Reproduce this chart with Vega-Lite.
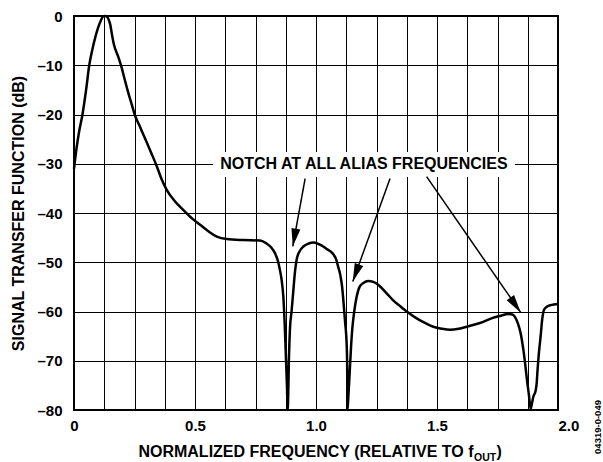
{
  "$schema": "https://vega.github.io/schema/vega-lite/v6.json",
  "width": 484,
  "height": 394,
  "autosize": {"type": "none"},
  "padding": {"left": 74, "top": 16, "right": 45, "bottom": 52},
  "background": "white",
  "config": {
    "font": "Liberation Sans",
    "view": {"stroke": "#000000", "strokeWidth": 2},
    "axis": {
      "grid": true,
      "gridColor": "#000000",
      "gridWidth": 1,
      "gridOpacity": 1,
      "domain": false,
      "ticks": false,
      "labelColor": "#000000",
      "labelFont": "Liberation Sans",
      "labelFontWeight": "bold",
      "labelFontSize": 15,
      "labelFlush": false,
      "labelOverlap": false,
      "titleColor": "#000000",
      "titleFont": "Liberation Sans",
      "titleFontWeight": "bold",
      "titleFontSize": 16
    }
  },
  "datasets": {
    "curve": [
      {"f": 0.000, "db": -31},
      {"f": 0.010, "db": -27},
      {"f": 0.020, "db": -23.8},
      {"f": 0.035, "db": -20},
      {"f": 0.050, "db": -15},
      {"f": 0.063, "db": -10},
      {"f": 0.075, "db": -7},
      {"f": 0.087, "db": -4.5},
      {"f": 0.100, "db": -2.3},
      {"f": 0.112, "db": -0.8},
      {"f": 0.120, "db": -0.1},
      {"f": 0.127, "db": 0},
      {"f": 0.135, "db": -0.1},
      {"f": 0.143, "db": -0.7},
      {"f": 0.150, "db": -1.8},
      {"f": 0.157, "db": -3.8},
      {"f": 0.165, "db": -5.8},
      {"f": 0.183, "db": -8.3},
      {"f": 0.197, "db": -10.5},
      {"f": 0.210, "db": -13},
      {"f": 0.225, "db": -15.7},
      {"f": 0.240, "db": -18.2},
      {"f": 0.250, "db": -19.9},
      {"f": 0.270, "db": -22.2},
      {"f": 0.286, "db": -24},
      {"f": 0.300, "db": -25.6},
      {"f": 0.321, "db": -28},
      {"f": 0.342, "db": -30.5},
      {"f": 0.360, "db": -32.9},
      {"f": 0.383, "db": -35.3},
      {"f": 0.415, "db": -37.5},
      {"f": 0.452, "db": -39.4},
      {"f": 0.490, "db": -41.2},
      {"f": 0.521, "db": -42.4},
      {"f": 0.555, "db": -43.7},
      {"f": 0.590, "db": -44.8},
      {"f": 0.631, "db": -45.3},
      {"f": 0.700, "db": -45.5},
      {"f": 0.769, "db": -45.6},
      {"f": 0.796, "db": -46.2},
      {"f": 0.815, "db": -47},
      {"f": 0.831, "db": -48.2},
      {"f": 0.843, "db": -49.8},
      {"f": 0.851, "db": -51.6},
      {"f": 0.858, "db": -53.6},
      {"f": 0.865, "db": -57},
      {"f": 0.871, "db": -63},
      {"f": 0.876, "db": -69.8},
      {"f": 0.880, "db": -75},
      {"f": 0.883, "db": -80},
      {"f": 0.886, "db": -75},
      {"f": 0.888, "db": -69.8},
      {"f": 0.890, "db": -66.5},
      {"f": 0.893, "db": -63},
      {"f": 0.899, "db": -60},
      {"f": 0.906, "db": -56},
      {"f": 0.913, "db": -52},
      {"f": 0.920, "db": -49.5},
      {"f": 0.932, "db": -47.8},
      {"f": 0.948, "db": -46.8},
      {"f": 0.970, "db": -46.2},
      {"f": 0.990, "db": -46.0},
      {"f": 1.010, "db": -46.3},
      {"f": 1.030, "db": -46.8},
      {"f": 1.044, "db": -47.3},
      {"f": 1.060, "db": -47.8},
      {"f": 1.072, "db": -48.4},
      {"f": 1.084, "db": -49.5},
      {"f": 1.092, "db": -51},
      {"f": 1.100, "db": -52.5},
      {"f": 1.108, "db": -55},
      {"f": 1.113, "db": -57.7},
      {"f": 1.120, "db": -62},
      {"f": 1.127, "db": -67},
      {"f": 1.129, "db": -72},
      {"f": 1.130, "db": -80},
      {"f": 1.134, "db": -77},
      {"f": 1.138, "db": -73.5},
      {"f": 1.145, "db": -67},
      {"f": 1.150, "db": -63.5},
      {"f": 1.158, "db": -60},
      {"f": 1.168, "db": -57},
      {"f": 1.180, "db": -55},
      {"f": 1.196, "db": -54.2},
      {"f": 1.215, "db": -53.8},
      {"f": 1.237, "db": -54},
      {"f": 1.258, "db": -54.6},
      {"f": 1.292, "db": -56.3},
      {"f": 1.320, "db": -57.8},
      {"f": 1.347, "db": -58.9},
      {"f": 1.375, "db": -60},
      {"f": 1.416, "db": -61.4},
      {"f": 1.450, "db": -62.3},
      {"f": 1.485, "db": -63.1},
      {"f": 1.520, "db": -63.5},
      {"f": 1.554, "db": -63.7},
      {"f": 1.590, "db": -63.5},
      {"f": 1.623, "db": -63.1},
      {"f": 1.660, "db": -62.6},
      {"f": 1.691, "db": -62.1},
      {"f": 1.725, "db": -61.4},
      {"f": 1.760, "db": -60.9},
      {"f": 1.795, "db": -60.5},
      {"f": 1.812, "db": -60.6},
      {"f": 1.822, "db": -61.1},
      {"f": 1.835, "db": -62.5},
      {"f": 1.846, "db": -64.5},
      {"f": 1.857, "db": -67.8},
      {"f": 1.864, "db": -70.5},
      {"f": 1.872, "db": -74},
      {"f": 1.880, "db": -77},
      {"f": 1.887, "db": -79.8},
      {"f": 1.893, "db": -78.5},
      {"f": 1.898, "db": -77.3},
      {"f": 1.907, "db": -76.2},
      {"f": 1.912, "db": -74.5},
      {"f": 1.916, "db": -71.5},
      {"f": 1.920, "db": -69},
      {"f": 1.928, "db": -65.1},
      {"f": 1.935, "db": -61.5},
      {"f": 1.942, "db": -59.7},
      {"f": 1.955, "db": -59},
      {"f": 1.970, "db": -58.7},
      {"f": 2.000, "db": -58.5}
    ],
    "arrows": [
      {"id": 1, "x": 0.955, "y": -33, "x2": 0.904, "y2": -46.8},
      {"id": 2, "x": 1.306, "y": -33, "x2": 1.152, "y2": -53.9},
      {"id": 3, "x": 1.457, "y": -32.6, "x2": 1.846, "y2": -60.2}
    ],
    "one": [{}]
  },
  "layer": [
    {
      "data": {"name": "curve"},
      "mark": {"type": "line", "color": "#000000", "strokeWidth": 2.5, "interpolate": "monotone", "strokeJoin": "round"},
      "encoding": {
        "x": {
          "field": "f", "type": "quantitative",
          "scale": {"domain": [0, 2], "nice": false, "zero": false},
          "axis": {
            "values": [0, 0.125, 0.25, 0.375, 0.5, 0.625, 0.75, 0.875, 1, 1.125, 1.25, 1.375, 1.5, 1.625, 1.75, 1.875, 2],
            "tickCount": 40,
            "labelExpr": "datum.value == 0 ? '0' : (datum.value * 2 == round(datum.value * 2) ? format(datum.value, '.1f') : '')",
            "labelAlign": {"condition": {"test": "datum.value == 2", "value": "left"}, "value": "center"},
            "labelPadding": 8,
            "title": null
          }
        },
        "y": {
          "field": "db", "type": "quantitative",
          "scale": {"domain": [-80, 0], "nice": false, "zero": false},
          "axis": {
            "values": [-80, -70, -60, -50, -40, -30, -20, -10, 0],
            "tickCount": 20,
            "labelExpr": "datum.value == 0 ? '0' : '–' + format(abs(datum.value), 'd')",
            "labelPadding": 12,
            "title": "SIGNAL TRANSFER FUNCTION (dB)",
            "titleX": -48,
            "titleY": 197,
            "titleAngle": -90,
            "titleAlign": "center",
            "titleBaseline": "bottom"
          }
        }
      }
    },
    {
      "data": {"name": "one"},
      "mark": {"type": "rect", "fill": "#ffffff", "strokeWidth": 0},
      "encoding": {
        "x": {"datum": 0.574, "type": "quantitative"},
        "x2": {"datum": 1.822},
        "y": {"datum": -27.6, "type": "quantitative"},
        "y2": {"datum": -32.7}
      }
    },
    {
      "data": {"name": "one"},
      "mark": {"type": "text", "text": "NOTCH AT ALL ALIAS FREQUENCIES", "font": "Liberation Sans", "fontWeight": "bold", "fontSize": 16, "align": "center", "baseline": "middle", "color": "#000000"},
      "encoding": {
        "x": {"datum": 1.198, "type": "quantitative"},
        "y": {"datum": -30.1, "type": "quantitative"}
      }
    },
    {
      "data": {"name": "arrows"},
      "mark": {"type": "rule", "color": "#000000", "strokeWidth": 1.5},
      "encoding": {
        "x": {"field": "x", "type": "quantitative"},
        "y": {"field": "y", "type": "quantitative"},
        "x2": {"field": "x2"},
        "y2": {"field": "y2"}
      }
    },
    {
      "data": {"name": "arrows"},
      "transform": [{"filter": "datum.id == 1"}],
      "mark": {"type": "point", "shape": "M0,0L0.55,2.2L-0.55,2.2Z", "size": 270, "angle": 190, "filled": true, "color": "#000000", "opacity": 1, "strokeWidth": 0},
      "encoding": {
        "x": {"field": "x2", "type": "quantitative"},
        "y": {"field": "y2", "type": "quantitative"}
      }
    },
    {
      "data": {"name": "arrows"},
      "transform": [{"filter": "datum.id == 2"}],
      "mark": {"type": "point", "shape": "M0,0L0.55,2.2L-0.55,2.2Z", "size": 270, "angle": 200, "filled": true, "color": "#000000", "opacity": 1, "strokeWidth": 0},
      "encoding": {
        "x": {"field": "x2", "type": "quantitative"},
        "y": {"field": "y2", "type": "quantitative"}
      }
    },
    {
      "data": {"name": "arrows"},
      "transform": [{"filter": "datum.id == 3"}],
      "mark": {"type": "point", "shape": "M0,0L0.55,2.2L-0.55,2.2Z", "size": 270, "angle": 145, "filled": true, "color": "#000000", "opacity": 1, "strokeWidth": 0},
      "encoding": {
        "x": {"field": "x2", "type": "quantitative"},
        "y": {"field": "y2", "type": "quantitative"}
      }
    },
    {
      "data": {"name": "one"},
      "mark": {"type": "text", "text": "NORMALIZED FREQUENCY (RELATIVE TO f", "font": "Liberation Sans", "fontWeight": "bold", "fontSize": 16, "align": "right", "baseline": "alphabetic", "dy": 46.5, "color": "#000000"},
      "encoding": {
        "x": {"datum": 1.651, "type": "quantitative"},
        "y": {"datum": -80, "type": "quantitative"}
      }
    },
    {
      "data": {"name": "one"},
      "mark": {"type": "text", "text": "OUT", "font": "Liberation Sans", "fontWeight": "bold", "fontSize": 10.5, "align": "left", "baseline": "alphabetic", "dy": 51, "color": "#000000"},
      "encoding": {
        "x": {"datum": 1.653, "type": "quantitative"},
        "y": {"datum": -80, "type": "quantitative"}
      }
    },
    {
      "data": {"name": "one"},
      "mark": {"type": "text", "text": ")", "font": "Liberation Sans", "fontWeight": "bold", "fontSize": 16, "align": "left", "baseline": "alphabetic", "dy": 46.5, "color": "#000000"},
      "encoding": {
        "x": {"datum": 1.746, "type": "quantitative"},
        "y": {"datum": -80, "type": "quantitative"}
      }
    },
    {
      "data": {"name": "one"},
      "mark": {"type": "text", "text": "04319-0-049", "font": "Liberation Sans", "fontWeight": "bold", "fontSize": 9.5, "align": "center", "baseline": "middle", "angle": 270, "color": "#000000"},
      "encoding": {
        "x": {"datum": 2.165, "type": "quantitative"},
        "y": {"datum": -83.45, "type": "quantitative"}
      }
    }
  ]
}
